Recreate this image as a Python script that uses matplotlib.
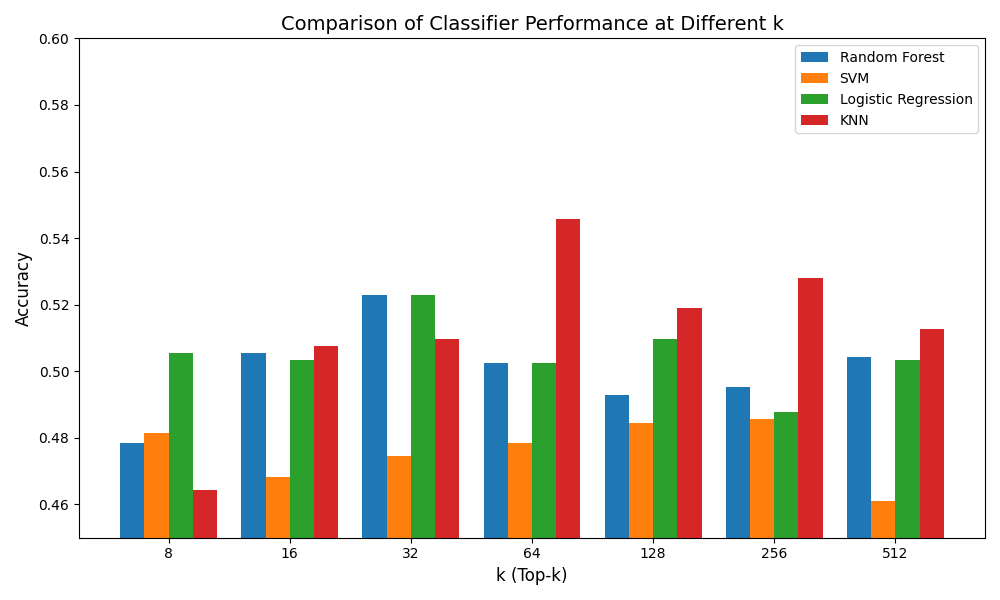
import matplotlib
matplotlib.use("Agg")
import matplotlib.pyplot as plt
import numpy as np

k_labels = ["8", "16", "32", "64", "128", "256", "512"]
random_forest = [0.4786, 0.5054, 0.5228, 0.5024, 0.4930, 0.4952, 0.5042]
svm = [0.4816, 0.4681, 0.4744, 0.4786, 0.4846, 0.4858, 0.4609]
logistic_regression = [0.5054, 0.5033, 0.5228, 0.5024, 0.5096, 0.4879, 0.5033]
knn = [0.4642, 0.5075, 0.5096, 0.5456, 0.5189, 0.5279, 0.5126]

series = [("Random Forest", random_forest), ("SVM", svm),
          ("Logistic Regression", logistic_regression), ("KNN", knn)]

fig, ax = plt.subplots(figsize=(10, 6), dpi=100)
x = np.arange(len(k_labels))
w = 0.2
for i, (name, vals) in enumerate(series):
    ax.bar(x + (i - 1.5) * w, vals, w, label=name)

ax.set_xticks(x)
ax.set_xticklabels(k_labels)
ax.set_ylim(0.45, 0.60)
ax.set_xlabel("k (Top-k)", fontsize=12)
ax.set_ylabel("Accuracy", fontsize=12)
ax.set_title("Comparison of Classifier Performance at Different k", fontsize=14)
ax.legend(loc="upper right")
fig.tight_layout()
fig.savefig("out.png")
